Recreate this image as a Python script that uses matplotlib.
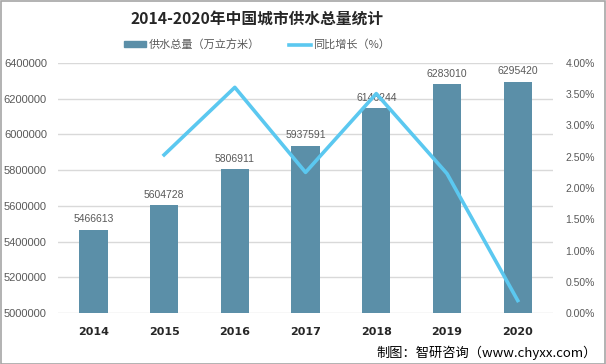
import matplotlib.pyplot as plt
import matplotlib as mpl
from matplotlib.patches import Rectangle
from matplotlib.lines import Line2D

plt.rcParams['font.family'] = ['Noto Sans CJK SC', 'DejaVu Sans']

years = ['2014', '2015', '2016', '2017', '2018', '2019', '2020']
supply = [5466613, 5604728, 5806911, 5937591, 6146244, 6283010, 6295420]
# growth in percent (2015 onward)
growth_years = ['2015', '2016', '2017', '2018', '2019', '2020']
growth = [2.53, 3.61, 2.25, 3.51, 2.23, 0.20]

bar_color = '#5B8FA8'
line_color = '#5BC8F0'
text_color = '#595959'
num_font = ['Liberation Sans', 'DejaVu Sans']

fig = plt.figure(figsize=(6.06, 3.64), dpi=100)
ax = fig.add_axes([0.0957, 0.140, 0.817, 0.687])

x = list(range(len(years)))
ax.bar(x, supply, width=0.4, color=bar_color, zorder=2)
for xi, v in zip(x, supply):
    ax.text(xi, v + 30000, str(v), ha='center', va='bottom',
            fontsize=7.5, color=text_color, family=num_font, zorder=3)

ax.set_ylim(5000000, 6400000)
ax.set_yticks(range(5000000, 6400001, 200000))
ax.set_yticklabels([str(t) for t in range(5000000, 6400001, 200000)],
                   fontsize=8, color=text_color, family=num_font)
ax.set_xlim(-0.5, 6.5)
ax.set_xticks(x)
ax.set_xticklabels(years, fontsize=8, fontweight='bold', color='#262626',
                   family=['DejaVu Sans'])
ax.grid(axis='y', color='#D9D9D9', linewidth=1, zorder=0)
ax.tick_params(axis='y', length=0, pad=8)
ax.tick_params(axis='x', length=0, pad=10)
for s in ax.spines.values():
    s.set_visible(False)

ax2 = ax.twinx()
gx = [years.index(y) for y in growth_years]
ax2.plot(gx, growth, color=line_color, linewidth=2.6, zorder=5)
ax2.set_ylim(0, 4)
ax2.set_yticks([i * 0.5 for i in range(9)])
ax2.set_yticklabels(['%.2f%%' % (i * 0.5) for i in range(9)],
                    fontsize=7.5, color=text_color, family=num_font)
ax2.tick_params(axis='y', length=0, pad=9)
for s in ax2.spines.values():
    s.set_visible(False)

fig.text(0.424, 0.948, '2014-2020年中国城市供水总量统计', ha='center', va='center',
         fontsize=11.3, fontweight='bold', color='#262626')

handles = [Rectangle((0, 0), 1, 1, color=bar_color),
           Line2D([0], [0], color=line_color, linewidth=2.6)]
fig.legend(handles, ['供水总量（万立方米）', '同比增长（%）'], loc='center',
           bbox_to_anchor=(0.424, 0.877), ncol=2, frameon=False, fontsize=8,
           labelcolor=text_color, handlelength=2.0, handleheight=0.5,
           columnspacing=2.6, handletextpad=0.2)

fig.text(0.985, 0.032, '制图：智研咨询（www.chyxx.com）', ha='right', va='center',
         fontsize=9.5, color='#000000')

fig.patches.append(Rectangle((0.001, 0.001), 0.998, 0.997, transform=fig.transFigure,
                             fill=False, edgecolor='#A6A6A6', linewidth=1.2))

plt.savefig('out.png', dpi=100)
plt.close()
